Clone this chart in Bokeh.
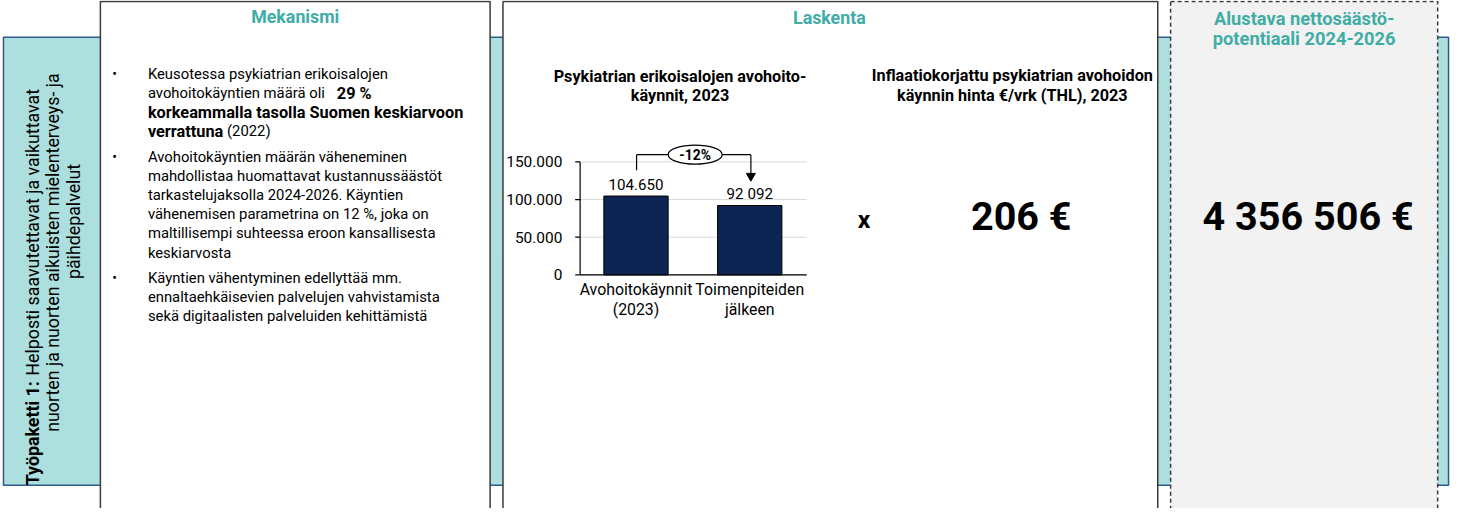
from math import pi
from bokeh.plotting import figure
from bokeh.models import Range1d
from bokeh.core.properties import value
from bokeh.embed import file_html
from bokeh.resources import INLINE

# ---------------- data ----------------
categories = ["Avohoitokäynnit\n(2023)", "Toimenpiteiden\njälkeen"]
visits = [104650, 92092]
visit_labels = ["104.650", "92 092"]
y_ticks = [0, 50000, 100000, 150000]
y_tick_labels = ["0", "50.000", "100.000", "150.000"]
change_label = "-12%"
chart_title = "Psykiatrian erikoisalojen avohoito-\nkäynnit, 2023"
price_title = "Inflaatiokorjattu psykiatrian avohoidon\nkäynnin hinta €/vrk (THL), 2023"
price_label = "206 €"
savings_title = "Alustava nettosäästö-\npotentiaali 2024-2026"
savings_label = "4 356 506 €"
section_titles = ["Mekanismi", "Laskenta"]

# ---------------- layout ----------------
REF_W, REF_H = 1469, 524          # coordinate space of the slide
W, H = 1453, 508                  # figure size (fits window with 8px margin)
S = W / REF_W                     # font scale
FONT = "Roboto"
TEAL_TXT = "#3FADA6"
TEAL_FILL = "#ADDFDE"
TEAL_EDGE = "#2E5B8C"
BOX_EDGE = "#3A3A3A"
NAVY = "#0C2552"

p = figure(width=W, height=H, x_range=Range1d(0, REF_W), y_range=Range1d(REF_H, 0),
           output_backend="svg", toolbar_location=None, min_border=0)
p.axis.visible = False
p.grid.visible = False
p.outline_line_color = None
p.background_fill_color = "white"
p.border_fill_color = "white"

# chart scales (value -> slide coordinates)
Y_ZERO_PX, Y_TOP_PX = 283.0, 166.5
k = (Y_ZERO_PX - Y_TOP_PX) / 150000
CAT0_PX, CAT_STEP = 642.5, 115.0
p.extra_y_ranges = {"bars": Range1d((Y_ZERO_PX - REF_H) / k, Y_ZERO_PX / k)}
p.extra_x_ranges = {"cats": Range1d(-CAT0_PX / CAT_STEP, (REF_W - CAT0_PX) / CAT_STEP)}

# ---------------- boxes ----------------
p.quad(left=3, right=1464, top=38, bottom=500, fill_color=TEAL_FILL, line_color=TEAL_EDGE, line_width=1.5)
p.quad(left=[101, 508], right=[495, 1170], top=[1, 1], bottom=[540, 540],
       fill_color="white", line_color=BOX_EDGE, line_width=1.5)
p.quad(left=1183, right=1453, top=1, bottom=540, fill_color="#F2F2F2",
       line_color=BOX_EDGE, line_width=1.5, line_dash="4 3")

def txt(x, y, s, size, bold=False, color="black", align="left", baseline="middle", **kw):
    p.text(x=[x], y=[y], text=[s], text_font=value(FONT), text_font_size=f"{size * S:.2f}px",
           text_font_style="bold" if bold else "normal", text_color=color,
           text_align=align, text_baseline=baseline, **kw)

# section titles
txt(298, 17, section_titles[0], 18, True, TEAL_TXT, "center")
txt(838, 18, section_titles[1], 18, True, TEAL_TXT, "center")
for i, line in enumerate(savings_title.split("\n")):
    txt(1318, 19 + 20 * i, line, 18.5, True, TEAL_TXT, "center")

# left rotated label
txt(32, 500, "Työpaketti 1:", 18, True, angle=pi / 2)
txt(32, 387, "Helposti saavutettavat ja vaikuttavat", 18, angle=pi / 2)
txt(53, 260, "nuorten ja nuorten aikuisten mielenterveys- ja", 18, align="center", angle=pi / 2)
txt(74, 228, "päihdepalvelut", 18, align="center", angle=pi / 2)

# bullets
BX, TX, FS, FB = 113, 149, 15, 16.5
ys1 = [76, 95.7, 115.4, 135.1]
ys2 = [161.5, 181.2, 200.9, 220.6, 240.3, 260]
ys3 = [286.5, 306.2, 325.9]
for y in (ys1[0], ys2[0], ys3[0]):
    txt(BX, y, "•", 14)
txt(TX, ys1[0], "Keusotessa psykiatrian erikoisalojen", FS)
txt(TX, ys1[1], "avohoitokäyntien määrä oli", FS)
txt(340, ys1[1], "29 %", FB, True)
txt(TX, ys1[2], "korkeammalla tasolla Suomen keskiarvoon", FB, True)
txt(TX, ys1[3], "verrattuna", FB, True)
txt(229, ys1[3], "(2022)", FS)
b2 = ["Avohoitokäyntien määrän väheneminen", "mahdollistaa huomattavat kustannussäästöt",
      "tarkastelujaksolla 2024-2026. Käyntien", "vähenemisen parametrina on 12 %, joka on",
      "maltillisempi suhteessa eroon kansallisesta", "keskiarvosta"]
for y, s in zip(ys2, b2):
    txt(TX, y, s, FS)
b3 = ["Käyntien vähentyminen edellyttää mm.", "ennaltaehkäisevien palvelujen vahvistamista",
      "sekä digitaalisten palveluiden kehittämistä"]
for y, s in zip(ys3, b3):
    txt(TX, y, s, FS)

# ---------------- bar chart ----------------
for i, line in enumerate(chart_title.split("\n")):
    txt(687, 78 + 20 * i, line, 16.4, True, align="center")

AX_L, AX_R = 586, 815
p.segment(x0=[AX_L] * len(y_ticks), x1=[AX_R] * len(y_ticks), y0=y_ticks, y1=y_ticks,
          y_range_name="bars", line_color="#D9D9D9", line_width=1)
p.vbar(x=list(range(len(visits))), top=visits, bottom=0, width=65 / CAT_STEP,
       x_range_name="cats", y_range_name="bars", fill_color=NAVY, line_color="#000000", line_width=1)
p.segment(x0=[AX_L], x1=[AX_L], y0=[0], y1=[max(y_ticks)], y_range_name="bars",
          line_color="#000000", line_width=1.2)
p.segment(x0=[AX_L], x1=[AX_R], y0=[0], y1=[0], y_range_name="bars",
          line_color="#000000", line_width=1.2)
p.segment(x0=[AX_L - 5] * len(y_ticks), x1=[AX_L] * len(y_ticks), y0=y_ticks, y1=y_ticks,
          y_range_name="bars", line_color="#000000", line_width=1.2)
p.text(x=[AX_L - 18] * len(y_ticks), y=y_ticks, text=y_tick_labels, y_range_name="bars",
       text_font=value(FONT), text_font_size=f"{15.6 * S:.2f}px", text_align="right",
       text_baseline="middle")
p.text(x=list(range(len(visits))), y=[v + 15000 for v in visits], text=visit_labels,
       x_range_name="cats", y_range_name="bars", text_font=value(FONT),
       text_font_size=f"{15.3 * S:.2f}px", text_align="center", text_baseline="middle")
p.text(x=list(range(len(categories))), y=[288.5] * len(categories), text=categories,
       x_range_name="cats", text_font=value(FONT), text_font_size=f"{16 * S:.2f}px",
       text_align="center", text_baseline="top", text_line_height=1.02)

# -12% bracket
p.segment(x0=[0.005], x1=[0.005], y0=[175], y1=[159], x_range_name="cats", line_color="black", line_width=1.2)
p.segment(x0=[0.005], x1=[1.01], y0=[159], y1=[159], x_range_name="cats", line_color="black", line_width=1.2)
p.segment(x0=[1.01], x1=[1.01], y0=[159], y1=[179], x_range_name="cats", line_color="black", line_width=1.2)
p.scatter(x=[1.01], y=[181], marker="inverted_triangle", size=9, x_range_name="cats",
          fill_color="black", line_color="black")
p.ellipse(x=[0.52], y=[159], width=[54], height=[19], width_units="screen", height_units="screen",
          x_range_name="cats", fill_color="white", line_color="black", line_width=1.2)
p.text(x=[0.52], y=[159], text=[change_label], x_range_name="cats", text_font=value(FONT),
       text_font_size=f"{14 * S:.2f}px", text_font_style="bold", text_align="center",
       text_baseline="middle")

# price & total
for i, line in enumerate(price_title.split("\n")):
    txt(1023, 77 + 21 * i, line, 16.4, True, align="center")
txt(873, 226, "x", 25, True, align="center")
txt(1032, 223, price_label, 40, True, align="center")
txt(1322, 223, savings_label, 40, True, align="center")

open("out.html", "w").write(file_html(p, INLINE))
